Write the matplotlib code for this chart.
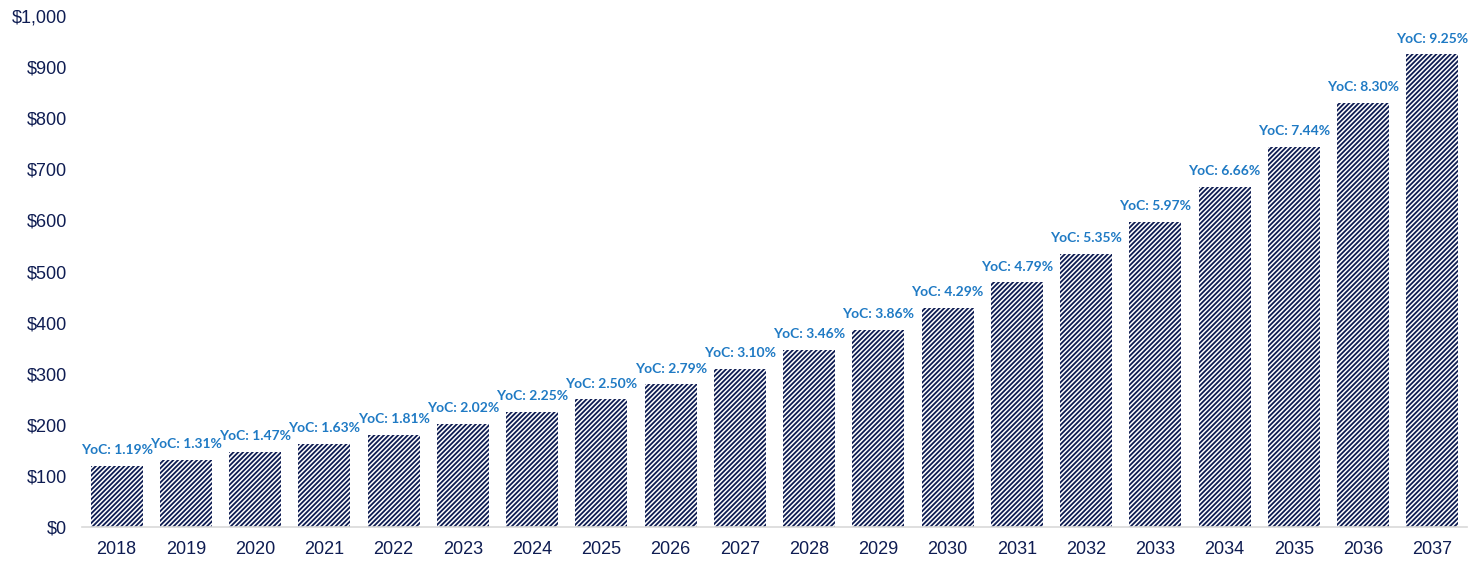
import matplotlib.pyplot as plt
import numpy as np

years = [str(y) for y in range(2018, 2038)]
values = [119, 131, 147, 163, 181, 202, 225, 250, 279, 310,
          346, 386, 429, 479, 535, 597, 666, 744, 830, 925]
yoc = ['1.19%', '1.31%', '1.47%', '1.63%', '1.81%', '2.02%', '2.25%', '2.50%', '2.79%', '3.10%',
       '3.46%', '3.86%', '4.29%', '4.79%', '5.35%', '5.97%', '6.66%', '7.44%', '8.30%', '9.25%']

navy = '#0E1C52'
label_blue = '#1F7AC4'

plt.rcParams['font.family'] = ['Liberation Sans', 'DejaVu Sans']
plt.rcParams['hatch.linewidth'] = 1.3
plt.rcParams['hatch.color'] = navy

fig = plt.figure(figsize=(14.81, 5.68), dpi=100)
ax = fig.add_axes([82 / 1481, 1 - 527 / 568, (1467 - 82) / 1481, (527 - 16) / 568])

x = np.arange(len(years))
bars = ax.bar(x, values, width=0.75, color='white', edgecolor=navy, hatch='///////', linewidth=0)

for xi, v, lab in zip(x, values, yoc):
    ax.annotate(f'YoC: {lab}', (xi, v), xytext=(0, 7), textcoords='offset points',
                ha='center', va='bottom', fontsize=10, fontweight='bold',
                color=label_blue, family=['Lato', 'DejaVu Sans'])

ax.set_xlim(-0.5, len(years) - 0.5)
ax.set_ylim(0, 1000)
ax.set_yticks(np.arange(0, 1001, 100))
ax.set_yticklabels([f'${v:,}' for v in range(0, 1001, 100)])
ax.set_xticks(x)
ax.set_xticklabels(years)
ax.tick_params(axis='both', length=0, labelsize=13, labelcolor=navy)
ax.tick_params(axis='y', pad=11)
ax.tick_params(axis='x', pad=10)

for side in ['top', 'right', 'left']:
    ax.spines[side].set_visible(False)
ax.spines['bottom'].set_color('#D9D9D9')
ax.spines['bottom'].set_linewidth(1.2)

fig.savefig('out.png', dpi=100)
